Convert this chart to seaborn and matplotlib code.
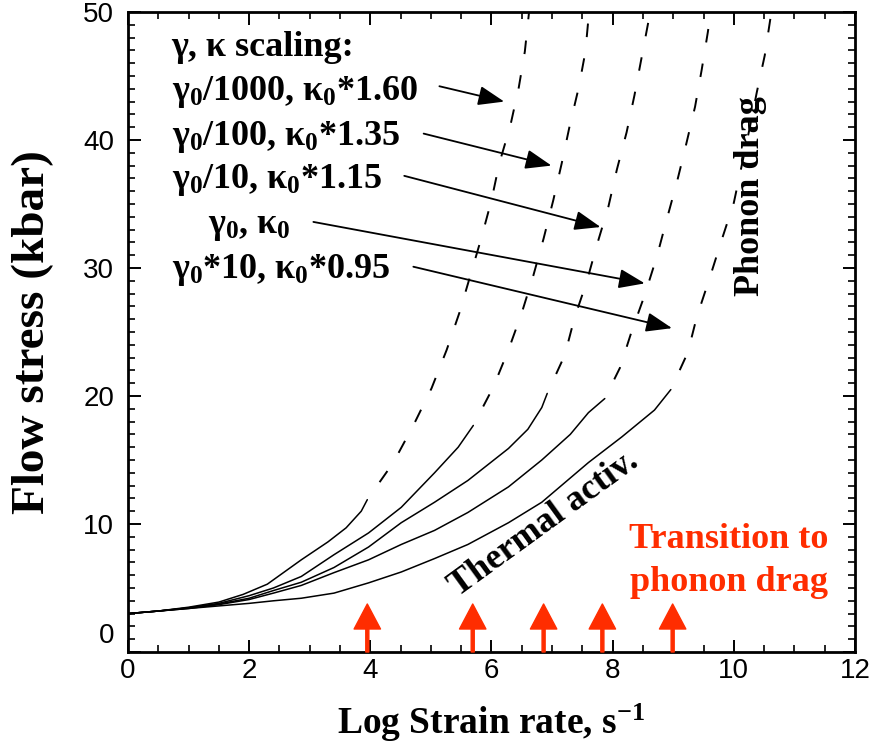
import numpy as np
import pandas as pd
import matplotlib
matplotlib.use("Agg")
import matplotlib.pyplot as plt
import matplotlib.transforms as mtransforms
import seaborn as sns

# Curvas de flujo: tramo de activación térmica (sólido) y tramo de arrastre de fonones (discontinuo)
curve_names = ["g0/1000", "g0/100", "g0/10", "g0", "g0*10"]

c1_thermal_x = [0, 0.5, 1.0, 1.5, 1.9, 2.3, 2.86, 3.3, 3.6, 3.85, 3.95]
c1_thermal_y = [3.0, 3.2, 3.5, 3.9, 4.5, 5.3, 7.2, 8.6, 9.7, 11.0, 11.9]
c2_thermal_x = [0, 0.5, 1.0, 1.5, 2.0, 2.4, 2.86, 3.4, 3.97, 4.51, 5.06, 5.45, 5.7]
c2_thermal_y = [3.0, 3.2, 3.45, 3.8, 4.4, 5.0, 5.9, 7.6, 9.3, 11.3, 14.0, 16.0, 17.7]
c3_thermal_x = [0, 0.5, 1.0, 1.5, 2.0, 2.4, 2.86, 3.4, 3.97, 4.51, 5.06, 5.61, 6.28, 6.6, 6.83, 6.92]
c3_thermal_y = [3.0, 3.2, 3.45, 3.75, 4.2, 4.8, 5.45, 6.6, 8.2, 10.1, 11.7, 13.4, 15.9, 17.4, 19.1, 20.2]
c4_thermal_x = [0, 0.5, 1.0, 1.5, 2.0, 2.4, 2.86, 3.4, 3.97, 4.51, 5.06, 5.61, 6.28, 6.83, 7.3, 7.6, 7.87]
c4_thermal_y = [3.0, 3.2, 3.4, 3.7, 4.1, 4.6, 5.2, 6.2, 7.2, 8.4, 9.5, 10.9, 12.9, 15.0, 17.0, 18.7, 19.8]
c5_thermal_x = [0, 0.5, 1.0, 1.5, 2.0, 2.4, 2.86, 3.4, 3.97, 4.51, 5.06, 5.61, 6.28, 6.83, 7.6, 8.15, 8.69, 8.96]
c5_thermal_y = [3.0, 3.2, 3.4, 3.6, 3.8, 4.0, 4.2, 4.6, 5.4, 6.25, 7.3, 8.4, 10.1, 11.7, 14.8, 16.8, 18.9, 20.5]

c1_drag_x = [3.95, 4.38, 4.71, 5.01, 5.26, 5.47, 5.65, 5.83, 6.0, 6.13, 6.31, 6.45, 6.55, 6.62]
c1_drag_y = [11.9, 14.8, 17.7, 20.6, 23.6, 26.5, 29.4, 32.3, 35.3, 38.2, 41.1, 44.1, 46.9, 50.0]
c2_drag_x = [5.7, 6.03, 6.28, 6.50, 6.69, 6.86, 7.02, 7.16, 7.29, 7.44, 7.55, 7.61]
c2_drag_y = [17.7, 20.7, 23.6, 26.5, 29.4, 32.3, 35.3, 38.2, 41.1, 44.1, 46.9, 50.0]
c3_drag_x = [6.92, 7.21, 7.37, 7.57, 7.74, 7.93, 8.07, 8.23, 8.36, 8.48, 8.62]
c3_drag_y = [20.2, 23.2, 26.1, 28.9, 31.8, 34.8, 37.7, 40.6, 43.5, 46.5, 50.0]
c4_drag_x = [7.87, 8.12, 8.31, 8.53, 8.73, 8.89, 9.06, 9.19, 9.36, 9.47, 9.57, 9.62]
c4_drag_y = [19.8, 22.2, 25.0, 27.9, 30.9, 33.75, 36.7, 39.2, 42.6, 45.5, 48.4, 50.0]
c5_drag_x = [8.96, 9.24, 9.39, 9.60, 9.80, 10.0, 10.13, 10.26, 10.38, 10.51, 10.62]
c5_drag_y = [20.5, 23.4, 26.2, 29.2, 32.2, 35.1, 38.0, 40.9, 43.75, 46.6, 50.0]

# Etiquetas de escalado y puntos a los que apuntan las flechas
scaling_labels = [r"$\gamma_0$/1000, $\kappa_0$*1.60",
                  r"$\gamma_0$/100, $\kappa_0$*1.35",
                  r"$\gamma_0$/10, $\kappa_0$*1.15",
                  r"$\gamma_0$, $\kappa_0$",
                  r"$\gamma_0$*10, $\kappa_0$*0.95"]
label_x = [0.72, 0.72, 0.72, 1.32, 0.72]
label_y = [43.1, 39.6, 36.25, 32.7, 29.2]
arrow_tail_x = [5.14, 4.88, 4.56, 3.06, 4.71]
arrow_tail_y = [44.2, 40.5, 37.2, 33.6, 30.1]
arrow_tip_x = [6.21, 6.99, 7.80, 8.53, 8.98]
arrow_tip_y = [43.0, 38.0, 33.2, 28.8, 25.3]

# Transición a arrastre de fonones (flechas rojas)
transition_x = [3.95, 5.69, 6.86, 7.83, 8.99]

x_ticks = [0, 2, 4, 6, 8, 10, 12]
y_ticks = [0, 10, 20, 30, 40, 50]

RED = "#ff2d00"

sns.set_style("ticks", {"xtick.direction": "in", "ytick.direction": "in",
                        "axes.edgecolor": "black", "text.color": "black",
                        "axes.labelcolor": "black", "xtick.color": "black",
                        "ytick.color": "black"})
plt.rcParams["font.family"] = ["Liberation Serif", "DejaVu Serif"]
plt.rcParams["mathtext.fontset"] = "custom"
plt.rcParams["mathtext.rm"] = "Liberation Serif:bold"
plt.rcParams["mathtext.it"] = "Liberation Serif:bold"
plt.rcParams["mathtext.bf"] = "Liberation Serif:bold"

thermal_sets = [(c1_thermal_x, c1_thermal_y), (c2_thermal_x, c2_thermal_y), (c3_thermal_x, c3_thermal_y),
                (c4_thermal_x, c4_thermal_y), (c5_thermal_x, c5_thermal_y)]
drag_sets = [(c1_drag_x, c1_drag_y), (c2_drag_x, c2_drag_y), (c3_drag_x, c3_drag_y),
             (c4_drag_x, c4_drag_y), (c5_drag_x, c5_drag_y)]

filas_t = []
filas_d = []
for nombre, (xs, ys) in zip(curve_names, thermal_sets):
    for x, y in zip(xs, ys):
        filas_t.append({"curve": nombre, "strain": x, "stress": y})
for nombre, (xs, ys) in zip(curve_names, drag_sets):
    for x, y in zip(xs, ys):
        filas_d.append({"curve": nombre, "strain": x, "stress": y})
df_thermal = pd.DataFrame(filas_t)
df_drag = pd.DataFrame(filas_d)

fig = plt.figure(figsize=(8.92, 7.52), dpi=100)
ax = fig.add_axes([128 / 892, 100 / 752, 727 / 892, 640 / 752])

sns.lineplot(data=df_thermal, x="strain", y="stress", units="curve", estimator=None,
             sort=False, color="black", linewidth=1.1, legend=False, ax=ax)
sns.lineplot(data=df_drag, x="strain", y="stress", units="curve", estimator=None,
             sort=False, color="black", linewidth=1.4, linestyle=(7, (7, 11)),
             legend=False, ax=ax)

ax.set_xlim(0, 12)
ax.set_ylim(0, 50)
ax.set_xticks(x_ticks)
ax.set_yticks(y_ticks)
ax.set_xticks(np.arange(0, 12.01, 0.5), minor=True)
ax.set_yticks(np.arange(0, 50.01, 1), minor=True)
ax.tick_params(which="both", direction="in", top=True, right=True, colors="black")
ax.tick_params(which="major", length=9, width=1.4)
ax.tick_params(which="minor", length=5, width=1.2)
ax.tick_params(axis="x", pad=4)
ax.tick_params(axis="y", pad=10)
for s in ax.spines.values():
    s.set_linewidth(2)
    s.set_color("black")
for lbl in ax.get_xticklabels() + ax.get_yticklabels():
    lbl.set_family(["Liberation Sans Narrow", "Liberation Sans"])
    lbl.set_fontsize(20)
    lbl.set_color("black")
# el "0" del eje y está desplazado hacia arriba en el original
ylab0 = ax.get_yticklabels()[0]
ylab0.set_transform(ylab0.get_transform() + mtransforms.ScaledTranslation(0, 0.19, fig.dpi_scale_trans))

ax.set_xlabel(r"Log Strain rate, s$^{-1}$", fontsize=27, fontweight="bold", color="black")
ax.set_ylabel("Flow stress (kbar)", fontsize=34, fontweight="bold", color="black")
ax.xaxis.set_label_coords(0.5, -0.078)
ax.yaxis.set_label_coords(-0.102, 0.5)

ax.text(0.72, 46.6, "γ, κ scaling:", fontsize=26, fontweight="bold", va="baseline", ha="left")
for txt, lx, ly in zip(scaling_labels, label_x, label_y):
    ax.text(lx, ly, txt, fontsize=26, fontweight="bold", va="baseline", ha="left")
for tx, ty, hx, hy in zip(arrow_tail_x, arrow_tail_y, arrow_tip_x, arrow_tip_y):
    ax.annotate("", xy=(hx, hy), xytext=(tx, ty),
                arrowprops=dict(arrowstyle="-|>,head_length=0.8,head_width=0.3",
                                mutation_scale=20, lw=1.3, color="black",
                                shrinkA=0, shrinkB=0))

for tx in transition_x:
    ax.annotate("", xy=(tx, 3.75), xytext=(tx, 0),
                arrowprops=dict(facecolor=RED, edgecolor=RED, width=2.2,
                                headwidth=19, headlength=18, shrink=0))

ax.text(6.95, 9.5, "Thermal activ.", fontsize=26, fontweight="bold", rotation=36,
        rotation_mode="anchor", ha="center", va="baseline")
ax.text(10.41, 35.6, "Phonon drag", fontsize=26, fontweight="bold", rotation=90,
        rotation_mode="anchor", ha="center", va="baseline")
ax.text(9.92, 8.1, "Transition to", fontsize=26, fontweight="bold", color=RED,
        ha="center", va="baseline")
ax.text(9.92, 4.8, "phonon drag", fontsize=26, fontweight="bold", color=RED,
        ha="center", va="baseline")

fig.savefig("out.png", dpi=100)
